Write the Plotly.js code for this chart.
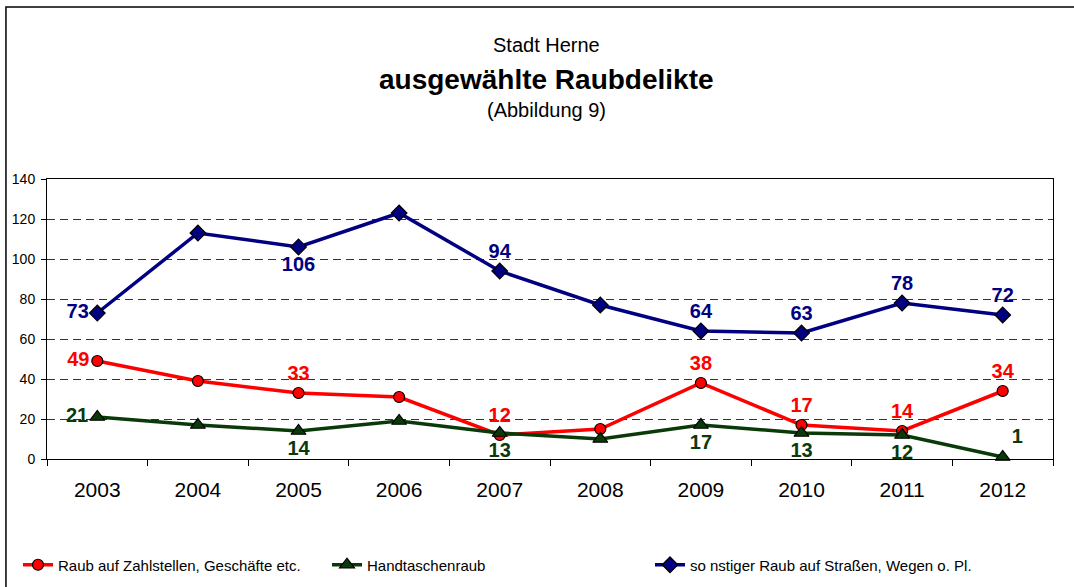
<!DOCTYPE html>
<html>
<head>
<meta charset="utf-8">
<script src="https://cdn.plot.ly/plotly-3.0.1.min.js"></script>
<style>
  body { margin: 0; background: #fff; }
  #chart { width: 1074px; height: 587px; }
</style>
</head>
<body>
<div id="chart"></div>
<script>
// Jahre
var years = ['2003', '2004', '2005', '2006', '2007', '2008', '2009', '2010', '2011', '2012'];

// Fallzahlen
var zahlstellen = [49, 39, 33, 31, 12, 15, 38, 17, 14, 34];
var handtaschen = [21, 17, 14, 19, 13, 10, 17, 13, 12, 1];
var sonstige = [73, 113, 106, 123, 94, 77, 64, 63, 78, 72];

// welche Punkte eine Beschriftung bekommen
var labelled = [0, 2, 4, 6, 7, 8, 9];

var seriesNames = [
    'Raub auf Zahlstellen, Geschäfte etc.',
    'Handtaschenraub',
    'so nstiger Raub auf Straßen, Wegen o. Pl.'
];

function labels(values) {
    return values.map(function (v, i) {
        return labelled.indexOf(i) >= 0 ? String(v) : '';
    });
}

var labelFont = { family: 'Liberation Sans, Arial, sans-serif', size: 20, weight: 'bold' };

var traceRed = {
    type: 'scatter', mode: 'lines+markers+text', name: seriesNames[0], legend: 'legend',
    x: years, y: zahlstellen, text: labels(zahlstellen),
    textposition: ['middle left', 'top center', 'top center', 'top center', 'top center',
                   'top center', 'top center', 'top center', 'top center', 'top center'],
    textfont: Object.assign({ color: '#ff0000' }, labelFont),
    line: { color: '#ff0000', width: 3.5 },
    marker: { symbol: 'circle', size: 11, color: '#ff0000', line: { color: '#000', width: 1.2 } },
    cliponaxis: false
};
var traceGreen = {
    type: 'scatter', mode: 'lines+markers+text', name: seriesNames[1], legend: 'legend2',
    x: years, y: handtaschen, text: labels(handtaschen),
    textposition: ['middle left', 'bottom center', 'bottom center', 'bottom center', 'bottom center',
                   'bottom center', 'bottom center', 'bottom center', 'bottom center', 'top right'],
    textfont: Object.assign({ color: '#0a3a0a' }, labelFont),
    line: { color: '#0a3a0a', width: 3.5 },
    marker: { symbol: 'triangle-up', size: 13, color: '#0a3a0a', line: { color: '#000', width: 1.2 } },
    cliponaxis: false
};
var traceBlue = {
    type: 'scatter', mode: 'lines+markers+text', name: seriesNames[2], legend: 'legend3',
    x: years, y: sonstige, text: labels(sonstige),
    textposition: ['middle left', 'top center', 'bottom center', 'top center', 'top center',
                   'top center', 'top center', 'top center', 'top center', 'top center'],
    textfont: Object.assign({ color: '#000080' }, labelFont),
    line: { color: '#000080', width: 3.5 },
    marker: { symbol: 'diamond', size: 12, color: '#000080', line: { color: '#000', width: 1.2 } },
    cliponaxis: false
};

function legendAt(px) {
    return {
        orientation: 'h',
        xref: 'container', x: px / 1074, xanchor: 'left',
        yref: 'container', y: 0.0375, yanchor: 'middle',
        font: { family: 'Liberation Sans, Arial, sans-serif', size: 15 },
        itemwidth: 30, bgcolor: 'rgba(0,0,0,0)'
    };
}

var layout = {
    width: 1074,
    height: 587,
    margin: { l: 47, r: 21, t: 179, b: 128, autoexpand: false },
    paper_bgcolor: '#fff',
    plot_bgcolor: '#fff',
    font: { family: 'Liberation Sans, Arial, sans-serif', color: '#000' },
    showlegend: true,
    legend: legendAt(18),
    legend2: legendAt(327),
    legend3: legendAt(650),
    xaxis: {
        type: 'category',
        range: [-0.5, 9.5],
        showline: true, linecolor: '#000', linewidth: 1, mirror: true,
        ticks: 'outside', ticklen: 6, tickcolor: '#000', tickson: 'boundaries',
        tickfont: { size: 21 }, ticklabelstandoff: 12,
        showgrid: false, zeroline: false, fixedrange: true
    },
    yaxis: {
        range: [0, 140],
        dtick: 20,
        showline: true, linecolor: '#000', linewidth: 1, mirror: true,
        ticks: 'outside', ticklen: 5, tickcolor: '#000',
        tickfont: { size: 14 }, ticklabelstandoff: 3,
        showgrid: true, gridcolor: '#333', griddash: '8px,5px', gridwidth: 1,
        zeroline: false, fixedrange: true
    },
    annotations: [
        { text: 'Stadt Herne', xref: 'paper', yref: 'paper', x: 0.497, y: 1.479,
          yanchor: 'middle', showarrow: false, font: { size: 20 } },
        { text: 'ausgewählte Raubdelikte', xref: 'paper', yref: 'paper', x: 0.497, y: 1.354,
          yanchor: 'middle', showarrow: false, font: { size: 28, weight: 'bold' } },
        { text: '(Abbildung 9)', xref: 'paper', yref: 'paper', x: 0.497, y: 1.246,
          yanchor: 'middle', showarrow: false, font: { size: 20 } }
    ],
    shapes: [
        { type: 'rect', xref: 'paper', yref: 'paper', layer: 'below',
          x0: -0.0408, x1: 1.05, y0: -0.6, y1: 1.614,
          line: { color: '#000', width: 1.5 }, fillcolor: 'rgba(0,0,0,0)' }
    ]
};

Plotly.newPlot('chart', [traceRed, traceGreen, traceBlue], layout, { displayModeBar: false, staticPlot: true });
</script>
</body>
</html>
